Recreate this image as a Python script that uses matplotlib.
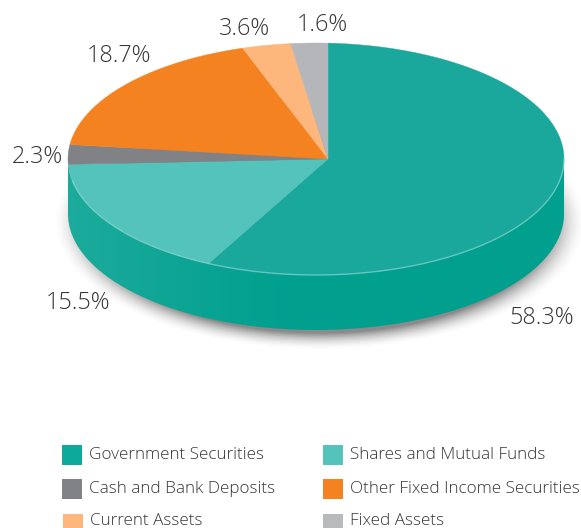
import numpy as np
import matplotlib
matplotlib.use("Agg")
import matplotlib.pyplot as plt
from matplotlib.patches import Polygon, Rectangle

plt.rcParams['font.family'] = ['Open Sans', 'DejaVu Sans']

categories = ['Government Securities', 'Shares and Mutual Funds', 'Cash and Bank Deposits',
              'Other Fixed Income Securities', 'Current Assets', 'Fixed Assets']
# printed percentages
values = [58.3, 15.5, 2.3, 18.7, 3.6, 1.6]
# slices are not drawn exactly to their printed size, so these are read off the picture
drawn_shares = [57.8, 16.5, 2.6, 17.6, 3.1, 2.4]
colors = ['#19A89B', '#54C3BB', '#808285', '#F58220', '#FDB67C', '#B4B6BA']
legend_colors = ['#0DA99B', '#54C3BB', '#808285', '#F58220', '#FDB67C', '#B8BABD']

# label centres in pixels
label_pos = [(542, 318), (78, 303), (37, 157), (119, 56), (245, 29), (322, 25)]
legend_pos = [(62, 445), (323, 445), (62, 479), (323, 479), (63, 514), (323, 514)]
legend_text_y = [455, 455, 489, 489, 521, 521]
text_color = '#37373A'

# pie geometry in pixels
cx, cy = 316, 159
rx, ry = 248, 116
depth = 55
apex_x = 328
apex = (apex_x - cx) / rx


def rim_point(theta):
    # ray from the off-centre apex to the unit circle, theta clockwise from top
    dx, dy = np.sin(theta), np.cos(theta)
    b = apex * dx
    t = -b + np.sqrt(b ** 2 - apex ** 2 + 1)
    return cx + rx * (apex + t * dx), cy - ry * t * dy


fig = plt.figure(figsize=(5.81, 5.28), dpi=100)
ax = fig.add_axes([0, 0, 1, 1])
ax.set_xlim(0, 581)
ax.set_ylim(528, 0)
ax.axis('off')

# soft shadow below the pie
xx, yy = np.meshgrid(np.arange(581) + 0.5, np.arange(528) + 0.5)
dist = np.sqrt(((xx - cx - 4) / (rx + 6)) ** 2 + ((yy - cy - depth - 8) / (ry + 6)) ** 2)
shadow = np.zeros((528, 581, 4))
shadow[..., :3] = 0.35
shadow[..., 3] = 0.7 * np.clip((1.05 - dist) / 0.14, 0, 1) ** 1.8
ax.imshow(shadow, extent=(0, 581, 528, 0), aspect='auto', zorder=1)

# side wall, filled with a gradient and clipped to its outline
phi = np.linspace(np.pi, 0, 200)
wall_x = cx + rx * np.cos(phi)
wall_y = cy + ry * np.sin(phi)
wall_pts = np.vstack([np.column_stack([wall_x, wall_y]),
                      np.column_stack([wall_x[::-1], wall_y[::-1] + depth])])
wall = Polygon(wall_pts, closed=True, facecolor='none', edgecolor='none', zorder=2)
ax.add_patch(wall)
light = np.array([0.11, 0.67, 0.61])
dark = np.array([0.0, 0.625, 0.56])
mix = np.clip((xx - cx + 250) / 220, 0, 1)[..., None]
grad = light * (1 - mix) + dark * mix
wall_img = ax.imshow(grad, extent=(0, 581, 528, 0), aspect='auto', zorder=2)
wall_img.set_clip_path(wall)
ax.set_xlim(0, 581)
ax.set_ylim(528, 0)

# top face
cum = np.cumsum([0] + drawn_shares)
for i in range(len(drawn_shares)):
    thetas = np.linspace(cum[i], cum[i + 1], 120) / 100 * 2 * np.pi
    xs, ys = rim_point(thetas)
    pts = np.vstack([[apex_x, cy], np.column_stack([xs, ys])])
    ax.add_patch(Polygon(pts, closed=True, facecolor=colors[i], edgecolor=colors[i],
                         linewidth=0.3, zorder=3))

# pale highlight along the front edge
ax.plot(wall_x[12:], wall_y[12:], color='#86D5CC', linewidth=1.0, alpha=0.7, zorder=4)

for (x, y), v in zip(label_pos, values):
    ax.text(x, y, f'{v}%', fontsize=16.8, fontweight='light', color=text_color,
            ha='center', va='center', zorder=5)

for (x, y), ty, name, c in zip(legend_pos, legend_text_y, categories, legend_colors):
    ax.add_patch(Rectangle((x, y), 20, 20, facecolor=c, edgecolor='none', zorder=5))
    ax.text(x + 27, ty, name, fontsize=12.35, fontweight='light', color=text_color,
            ha='left', va='center', zorder=5)

plt.savefig('out.png', dpi=100)
